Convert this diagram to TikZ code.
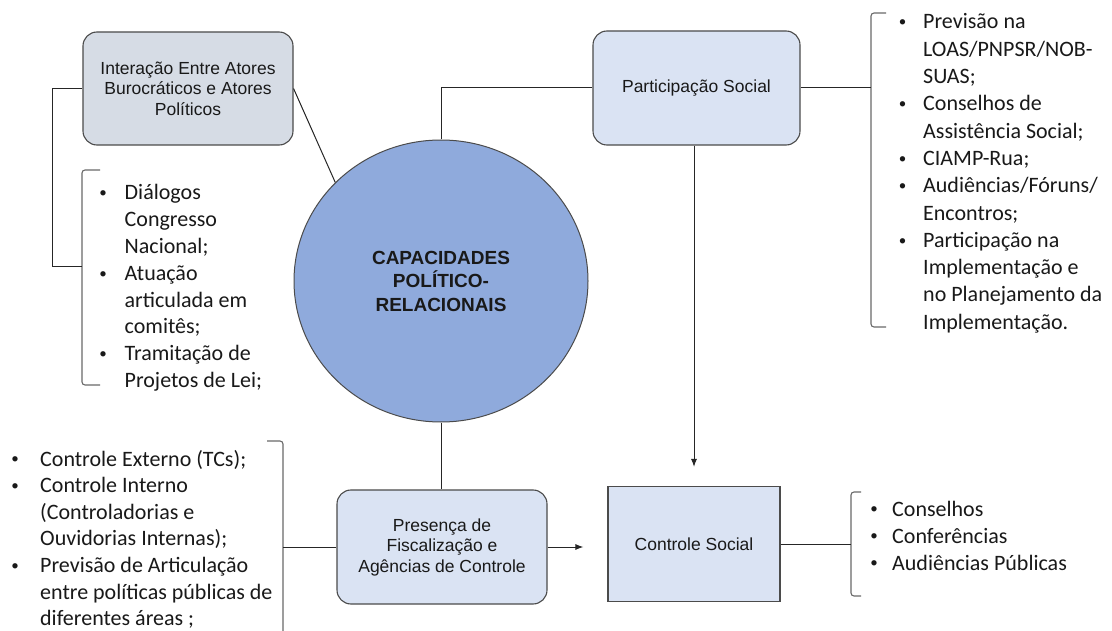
\documentclass[tikz,border=0pt]{standalone}
\usepackage{fontspec}
\setmainfont{Carlito}
\newfontfamily\arialf{Liberation Sans}
\usetikzlibrary{arrows.meta,shapes.geometric}
\definecolor{boxgray}{RGB}{214,220,229}
\definecolor{boxblue}{RGB}{218,227,243}
\definecolor{circblue}{RGB}{143,170,220}
\definecolor{edgegray}{RGB}{75,75,75}
\definecolor{brgray}{RGB}{105,105,105}
\definecolor{txt}{RGB}{25,25,25}
\newcommand{\bul}{\makebox[11pt][c]{\raisebox{2.2pt}{\fontsize{15}{15}\selectfont\textbullet}}}
\begin{document}
\begin{tikzpicture}[x=1pt,y=-1pt]
\tikzset{
  rbox/.style={draw=edgegray, line width=1.1pt, rounded corners=14pt, align=center,
    font=\arialf\fontsize{17.5}{20.5}\selectfont, text=txt, inner sep=0pt},
  sbox/.style={draw=edgegray, line width=1.1pt, align=center,
    font=\arialf\fontsize{17.5}{20.5}\selectfont, text=txt, inner sep=0pt},
  conn/.style={draw=black!85, line width=1pt},
  brk/.style={draw=brgray, line width=1.1pt, rounded corners=3pt},
  arr/.style={conn, -{Latex[length=8pt,width=6pt]}},
  lst/.style={anchor=base west, inner sep=0pt, text=txt},
}
\useasboundingbox (0,0) rectangle (1112,631);
\fill[white] (0,0) rectangle (1112,631);

% main nodes
\node[ellipse, draw=edgegray, line width=1pt, fill=circblue, minimum width=294pt, minimum height=282pt,
  inner sep=0pt, align=center, text=txt,
  font=\arialf\bfseries\fontsize{19}{23.5}\selectfont] (cap) at (441,281)
  {CAPACIDADES\\POLÍTICO-\\RELACIONAIS};

\node[rbox, fill=boxgray, minimum width=210pt, minimum height=113pt] (int) at (188,88.5)
  {Interação Entre Atores\\Burocráticos e Atores\\Políticos};
\node[rbox, fill=boxblue, minimum width=207pt, minimum height=114pt] (part) at (696.5,88)
  {Participação Social};
\node[rbox, fill=boxblue, minimum width=210pt, minimum height=114pt] (pres) at (442,547)
  {Presença de\\Fiscalização e\\Agências de Controle};
\node[sbox, fill=boxblue, minimum width=172pt, minimum height=115pt] (cs) at (694,544)
  {Controle Social};

% bracket attachment points
\coordinate (b1) at (82,267);
\coordinate (j1) at (52,267);
\coordinate (b2) at (871,88);
\coordinate (b3) at (283,547);
\coordinate (b4) at (851,544);

% brackets
\draw[brk] (100,170) -- (82,170) -- (82,385) -- (100,385);
\draw[brk] (886,13) -- (871,13) -- (871,327) -- (886,327);
\draw[brk] (267,441) -- (283,441) -- (283,631);
\draw[brk] (861,492) -- (851,492) -- (851,596) -- (861,596);

% connectors
\draw[conn] (int.west) -| (j1) -- (b1);
\draw[conn] (int.east) -- (cap.137);
\draw[conn] (part.west) -| (cap.north);
\draw[conn] (cap.south) -- (cap.south |- pres.north);
\draw[conn] (part.east) -- (part.east -| b2);
\draw[conn] (pres.west) -- (pres.west -| b3);
\draw[conn] (cs.east) -- (cs.east -| b4);
\draw[arr, shorten >=24pt] (pres.east) -- (pres.east -| cs.west);
\draw[arr, shorten >=19pt] (part.south -| cs.north) -- (cs.north);

% lists
\node[lst, font=\fontsize{22}{26.8}\selectfont] (l1) at (97.5,200)
  {\begin{tabular}[t]{@{}p{27pt}@{}l@{}}
   \bul & Diálogos\\ & Congresso\\ & Nacional;\\
   \bul & Atuação\\ & articulada em\\ & comitês;\\
   \bul & Tramitação de\\ & Projetos de Lei;
   \end{tabular}};

\node[lst, font=\fontsize{22}{27.3}\selectfont] (l2) at (897,29)
  {\begin{tabular}[t]{@{}p{26pt}@{}l@{}}
   \bul & Previsão na\\ & LOAS/PNPSR/NOB-\\ & SUAS;\\
   \bul & Conselhos de\\ & Assistência Social;\\
   \bul & CIAMP-Rua;\\
   \bul & Audiências/Fóruns/\\ & Encontros;\\
   \bul & Participação na\\ & Implementação e\\ & no Planejamento da\\ & Implementação.
   \end{tabular}};

\node[lst, font=\fontsize{22}{26.6}\selectfont] (l3) at (9.5,466)
  {\begin{tabular}[t]{@{}p{30.5pt}@{}l@{}}
   \bul & Controle Externo (TCs);\\
   \bul & Controle Interno\\ & (Controladorias e\\ & Ouvidorias Internas);\\
   \bul & Previsão de Articulação\\ & entre políticas públicas de\\ & diferentes áreas ;
   \end{tabular}};

\node[lst, font=\fontsize{22}{27}\selectfont] (l4) at (868.5,516)
  {\begin{tabular}[t]{@{}p{23.5pt}@{}l@{}}
   \bul & Conselhos\\
   \bul & Conferências\\
   \bul & Audiências Públicas
   \end{tabular}};
\end{tikzpicture}
\end{document}
